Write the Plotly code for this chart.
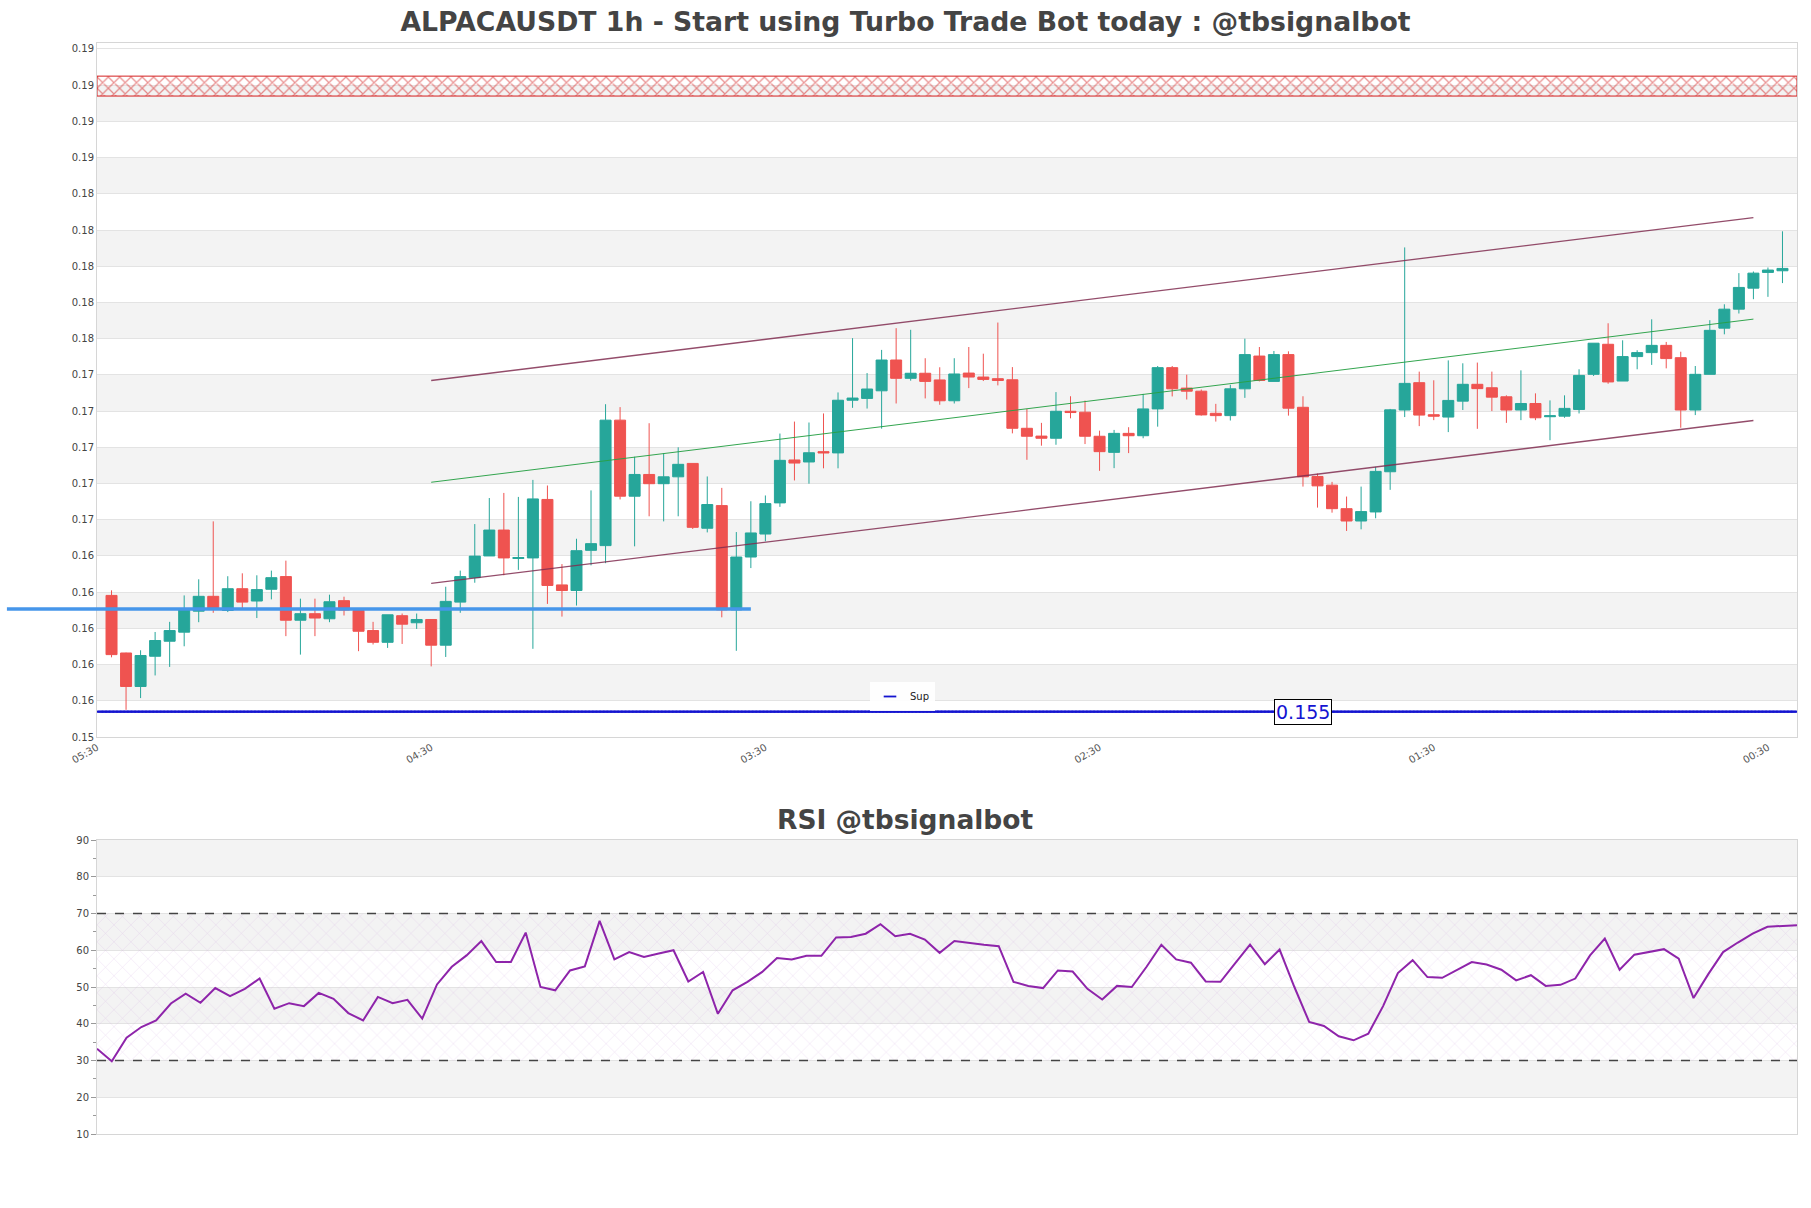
import pandas as pd
import plotly.graph_objects as go

# ---------------- data ----------------
title_text = "ALPACAUSDT 1h - Start using Turbo Trade Bot today : @tbsignalbot"
rsi_title_text = "RSI @tbsignalbot"
start_time = "2024-03-10 05:30"

opens = [0.16182, 0.15864, 0.15679, 0.15846, 0.15929, 0.15979, 0.16095, 0.16177, 0.16099, 0.16219,
         0.16151, 0.16216, 0.16286, 0.16045, 0.16081, 0.16053, 0.16153, 0.16099, 0.15988, 0.15923,
         0.16070, 0.16031, 0.16049, 0.15907, 0.16145, 0.16280, 0.16400, 0.16543, 0.16386, 0.16389,
         0.16712, 0.16240, 0.16209, 0.16431, 0.16457, 0.17150, 0.16730, 0.16850, 0.16799, 0.16837,
         0.16911, 0.16553, 0.16678, 0.16102, 0.16394, 0.16521, 0.16693, 0.16930, 0.16919, 0.16976,
         0.16969, 0.17260, 0.17270, 0.17312, 0.17482, 0.17381, 0.17409, 0.17372, 0.17257, 0.17410,
         0.17388, 0.17379, 0.17373, 0.17105, 0.17062, 0.17050, 0.17199, 0.17194, 0.17061, 0.16972,
         0.17077, 0.17064, 0.17212, 0.17440, 0.17327, 0.17310, 0.17188, 0.17175, 0.17323, 0.17504,
         0.17364, 0.17512, 0.17221, 0.16839, 0.16791, 0.16661, 0.16593, 0.16643, 0.16865, 0.17206,
         0.17357, 0.17180, 0.17167, 0.17255, 0.17348, 0.17329, 0.17279, 0.17206, 0.17242, 0.17169,
         0.17172, 0.17209, 0.17403, 0.17569, 0.17366, 0.17501, 0.17523, 0.17563, 0.17495, 0.17206,
         0.17403, 0.17658, 0.17763, 0.17879, 0.17966, 0.17975]
highs = [0.16210, 0.15866, 0.15879, 0.15980, 0.16036, 0.16182, 0.16271, 0.16591, 0.16288, 0.16304,
         0.16293, 0.16319, 0.16374, 0.16164, 0.16164, 0.16186, 0.16175, 0.16112, 0.16036, 0.16075,
         0.16082, 0.16082, 0.16049, 0.16230, 0.16319, 0.16576, 0.16720, 0.16748, 0.16726, 0.16820,
         0.16789, 0.16355, 0.16495, 0.16762, 0.17238, 0.17222, 0.16948, 0.17133, 0.16967, 0.17000,
         0.16911, 0.16839, 0.16776, 0.16532, 0.16702, 0.16734, 0.17076, 0.17142, 0.17137, 0.17187,
         0.17303, 0.17603, 0.17410, 0.17538, 0.17658, 0.17649, 0.17492, 0.17442, 0.17492, 0.17554,
         0.17517, 0.17689, 0.17443, 0.17212, 0.17135, 0.17305, 0.17282, 0.17258, 0.17092, 0.17096,
         0.17111, 0.17295, 0.17449, 0.17449, 0.17401, 0.17319, 0.17240, 0.17345, 0.17600, 0.17554,
         0.17532, 0.17530, 0.17282, 0.16855, 0.16809, 0.16728, 0.16783, 0.16892, 0.17212, 0.18104,
         0.17418, 0.17370, 0.17480, 0.17464, 0.17468, 0.17418, 0.17287, 0.17425, 0.17298, 0.17259,
         0.17287, 0.17431, 0.17575, 0.17685, 0.17591, 0.17536, 0.17707, 0.17582, 0.17528, 0.17449,
         0.17702, 0.17790, 0.17962, 0.17971, 0.17993, 0.18193]
lows = [0.15840, 0.15550, 0.15615, 0.15740, 0.15787, 0.15901, 0.16034, 0.16086, 0.16090, 0.16105,
        0.16057, 0.16160, 0.15957, 0.15855, 0.15957, 0.16034, 0.16071, 0.15874, 0.15911, 0.15892,
        0.15914, 0.15997, 0.15790, 0.15842, 0.16086, 0.16252, 0.16400, 0.16293, 0.16323, 0.15887,
        0.16135, 0.16065, 0.16126, 0.16348, 0.16360, 0.16712, 0.16453, 0.16619, 0.16591, 0.16619,
        0.16549, 0.16530, 0.16061, 0.15876, 0.16333, 0.16481, 0.16671, 0.16817, 0.16799, 0.16884,
        0.16884, 0.17218, 0.17214, 0.17103, 0.17242, 0.17368, 0.17270, 0.17235, 0.17242, 0.17327,
        0.17366, 0.17342, 0.17077, 0.16931, 0.17009, 0.17014, 0.17160, 0.17018, 0.16870, 0.16885,
        0.16968, 0.17050, 0.17114, 0.17281, 0.17264, 0.17175, 0.17142, 0.17148, 0.17273, 0.17364,
        0.17364, 0.17175, 0.16783, 0.16667, 0.16639, 0.16538, 0.16547, 0.16608, 0.16765, 0.17167,
        0.17117, 0.17150, 0.17084, 0.17206, 0.17102, 0.17200, 0.17135, 0.17150, 0.17150, 0.17039,
        0.17163, 0.17187, 0.17394, 0.17351, 0.17366, 0.17431, 0.17455, 0.17436, 0.17108, 0.17178,
        0.17403, 0.17624, 0.17739, 0.17818, 0.17831, 0.17907]
closes = [0.15855, 0.15679, 0.15850, 0.15933, 0.15988, 0.16105, 0.16177, 0.16105, 0.16219, 0.16145,
          0.16214, 0.16280, 0.16045, 0.16081, 0.16057, 0.16147, 0.16101, 0.15984, 0.15923, 0.16075,
          0.16023, 0.16049, 0.15907, 0.16149, 0.16286, 0.16399, 0.16543, 0.16389, 0.16391, 0.16715,
          0.16237, 0.16209, 0.16429, 0.16468, 0.17150, 0.16730, 0.16850, 0.16799, 0.16837, 0.16906,
          0.16558, 0.16684, 0.16102, 0.16394, 0.16527, 0.16689, 0.16928, 0.16913, 0.16970, 0.16969,
          0.17260, 0.17272, 0.17322, 0.17482, 0.17381, 0.17409, 0.17364, 0.17257, 0.17405, 0.17388,
          0.17375, 0.17369, 0.17105, 0.17061, 0.17050, 0.17199, 0.17192, 0.17061, 0.16976, 0.17077,
          0.17064, 0.17212, 0.17440, 0.17323, 0.17310, 0.17179, 0.17175, 0.17323, 0.17512, 0.17369,
          0.17512, 0.17216, 0.16837, 0.16787, 0.16661, 0.16593, 0.16645, 0.16867, 0.17207, 0.17353,
          0.17178, 0.17172, 0.17259, 0.17348, 0.17324, 0.17277, 0.17206, 0.17242, 0.17163, 0.17174,
          0.17215, 0.17397, 0.17575, 0.17361, 0.17501, 0.17523, 0.17563, 0.17490, 0.17206, 0.17403,
          0.17646, 0.17763, 0.17883, 0.17962, 0.17979, 0.17988]

rsi_values = [33.2, 29.8, 36.2, 39.1, 40.9, 45.5, 48.2, 45.7, 49.7, 47.5, 49.5, 52.3, 44.1, 45.6, 44.8,
              48.4, 46.8, 42.9, 40.9, 47.3, 45.6, 46.5, 41.4, 50.7, 55.5, 58.6, 62.5, 56.8, 56.8, 64.8,
              50.0, 49.1, 54.5, 55.6, 68.0, 57.5, 59.5, 58.2, 59.1, 60.0, 51.5, 54.1, 42.7, 49.1, 51.4,
              54.1, 57.9, 57.5, 58.5, 58.5, 63.5, 63.6, 64.5, 67.1, 63.8, 64.5, 62.9, 59.3, 62.5, 61.9,
              61.5, 61.1, 51.4, 50.3, 49.7, 54.5, 54.2, 49.5, 46.6, 50.3, 50.0, 55.5, 61.5, 57.5, 56.6,
              51.5, 51.4, 56.5, 61.5, 56.2, 60.2, 50.0, 40.5, 39.4, 36.6, 35.5, 37.3, 44.8, 53.8, 57.3,
              52.7, 52.5, 54.7, 56.8, 56.1, 54.7, 51.8, 53.2, 50.3, 50.6, 52.3, 58.6, 63.2, 54.7, 58.8,
              59.5, 60.3, 57.7, 47.0, 53.5, 59.5, 62.1, 64.5, 66.4, 66.6, 66.8]

resistance_zone = [0.1894, 0.1905]
support_level = 0.1554
support_label = "0.155"
support_label_candle = 83
blue_level = 0.16107
blue_start_hours = -6.2
blue_end_candle = 45

channel_candles = [23, 114]
channel_upper = [0.17369, 0.18269]
channel_mid = [0.16807, 0.17708]
channel_lower = [0.16249, 0.17148]

rsi_levels = [30, 70]

# ---------------- derived ----------------
t0 = pd.Timestamp(start_time)
n = len(opens)
times = [t0 + pd.Timedelta(hours=k) for k in range(1, n + 1)]
t_end = t0 + pd.Timedelta(hours=n + 1)
span = (t_end - t0)

def to_paper(t):
    return (t - t0) / span

W, H = 1811, 1208
ML, MR, MT, MB = 97, 14, 43, 74
plot_h = H - MT - MB
main_dom = [(H - MB - 737) / plot_h, 1.0]
rsi_dom = [0.0, (H - MB - 840) / plot_h]

FONT = "DejaVu Sans"
GRID = "#e3e3e3"
BAND = "#f3f3f3"
AXLINE = "#d6d6d6"

fig = go.Figure()

# resistance zone (hatched)
fig.add_trace(go.Scatter(
    x=[t0, t_end, t_end, t0, t0],
    y=[resistance_zone[0], resistance_zone[0], resistance_zone[1], resistance_zone[1], resistance_zone[0]],
    mode="lines", fill="toself", line=dict(color="#d42020", width=1),
    fillcolor="rgba(0,0,0,0)",
    fillpattern=dict(shape="x", fgcolor="#d42020", bgcolor="rgba(0,0,0,0)", size=8, solidity=0.3),
    showlegend=False, hoverinfo="skip", xaxis="x", yaxis="y"))

fig.add_trace(go.Candlestick(
    x=times, open=opens, high=highs, low=lows, close=closes,
    increasing=dict(line=dict(color="#26a69a", width=1), fillcolor="#26a69a"),
    decreasing=dict(line=dict(color="#ef5350", width=1), fillcolor="#ef5350"),
    whiskerwidth=0, showlegend=False, xaxis="x", yaxis="y"))

ch_x = [times[channel_candles[0] - 1], times[channel_candles[1] - 1]]
for yy, col, w in [(channel_upper, "rgba(128,45,80,0.85)", 1.3),
                   (channel_mid, "rgba(40,160,70,0.95)", 1.0),
                   (channel_lower, "rgba(128,45,80,0.85)", 1.3)]:
    fig.add_trace(go.Scatter(x=ch_x, y=yy, mode="lines", line=dict(color=col, width=w),
                             showlegend=False, hoverinfo="skip", xaxis="x", yaxis="y"))

sup_x = pd.date_range(t0, t_end, freq="15min")
fig.add_trace(go.Scatter(
    x=sup_x, y=[support_level] * len(sup_x), mode="markers", name="Sup",
    marker=dict(symbol="line-ew-open", size=9, color="#1414d0", line=dict(width=1.8, color="#1414d0")),
    xaxis="x", yaxis="y"))

# RSI
fig.add_trace(go.Scatter(
    x=[times[0], times[-1], times[-1], times[0], times[0]],
    y=[rsi_levels[0], rsi_levels[0], rsi_levels[1], rsi_levels[1], rsi_levels[0]],
    mode="lines", fill="toself", line=dict(width=0, color="rgba(0,0,0,0)"),
    fillcolor="rgba(0,0,0,0)",
    fillpattern=dict(shape="x", fgcolor="rgba(195,150,215,0.75)", bgcolor="rgba(0,0,0,0)", size=12, solidity=0.07),
    showlegend=False, hoverinfo="skip", xaxis="x2", yaxis="y2"))
fig.add_trace(go.Scatter(x=times, y=rsi_values, mode="lines", line=dict(color="#8e24aa", width=2),
                         showlegend=False, xaxis="x2", yaxis="y2"))

shapes = []
v = 0.156
while v < 0.1915:
    shapes.append(dict(type="rect", xref="x domain", yref="y", x0=0, x1=1, y0=v, y1=v + 0.002,
                       fillcolor=BAND, line=dict(width=0), layer="below"))
    v += 0.004
for lo in [20, 40, 60, 80]:
    shapes.append(dict(type="rect", xref="x2 domain", yref="y2", x0=0, x1=1, y0=lo, y1=lo + 10,
                       fillcolor=BAND, line=dict(width=0), layer="below"))
for lv in rsi_levels:
    shapes.append(dict(type="line", xref="x2 domain", yref="y2", x0=0, x1=1, y0=lv, y1=lv,
                       line=dict(color="#444", width=1.4, dash="dash"), layer="above"))
blue_t0 = t0 + pd.Timedelta(hours=blue_start_hours)
shapes.append(dict(type="line", xref="paper", yref="y",
                   x0=to_paper(blue_t0), x1=to_paper(times[blue_end_candle - 1]),
                   y0=blue_level, y1=blue_level, line=dict(color="#4696ea", width=3.5), layer="above"))

annotations = [
    dict(x=times[support_label_candle - 1], y=support_level, xref="x", yref="y", text=support_label,
         showarrow=False, font=dict(family=FONT, size=19, color="#1414d2"),
         bgcolor="white", bordercolor="black", borderwidth=1, borderpad=1),
    dict(x=(W / 2 - ML) / (W - ML - MR), y=(H - MB - 819) / plot_h, xref="paper", yref="paper",
         text=rsi_title_text, showarrow=False, xanchor="center", yanchor="middle",
         font=dict(family=FONT, size=26.5, color="#444", weight="bold")),
]

fig.update_layout(
    width=W, height=H, margin=dict(l=ML, r=MR, t=MT, b=MB),
    paper_bgcolor="white", plot_bgcolor="white",
    font=dict(family=FONT, color="#444"),
    boxgap=0.13, boxgroupgap=0.13,
    title=dict(text=title_text, x=0.5, xref="container", xanchor="center",
               y=1 - 22 / H, yref="container", yanchor="middle",
               font=dict(family=FONT, size=26.7, color="#444", weight="bold")),
    showlegend=True,
    legend=dict(x=(870 - ML) / (W - ML - MR), y=(H - MB - 682) / plot_h, xanchor="left", yanchor="top",
                bgcolor="rgba(255,255,255,0.9)", font=dict(family=FONT, size=10, color="#222"),
                borderwidth=0),
    xaxis=dict(domain=[0, 1], anchor="y", type="date", range=[t0, t_end],
               tick0=t0, dtick=23 * 3600 * 1000, tickformat="%H:%M", tickangle=-30,
               tickfont=dict(size=10, color="#555"), showgrid=False, zeroline=False,
               showline=True, mirror=True, linecolor=AXLINE, rangeslider=dict(visible=False)),
    yaxis=dict(domain=main_dom, anchor="x", range=[0.154, 0.19233], tick0=0.154, dtick=0.002,
               tickformat=".2f", tickfont=dict(size=10, color="#444"), gridcolor=GRID,
               zeroline=False, showline=True, mirror=True, linecolor=AXLINE),
    xaxis2=dict(domain=[0, 1], anchor="y2", type="date", showticklabels=False, showgrid=False,
                zeroline=False, showline=True, mirror=True, linecolor=AXLINE),
    yaxis2=dict(domain=rsi_dom, anchor="x2", range=[10, 90], dtick=10, tick0=10,
                tickfont=dict(size=10, color="#444"), gridcolor=GRID, zeroline=False,
                showline=True, mirror=True, linecolor=AXLINE,
                ticks="outside", ticklen=5, tickcolor="#999",
                minor=dict(ticks="outside", ticklen=3, dtick=5, tickcolor="#999", showgrid=False)),
    shapes=shapes, annotations=annotations,
)

fig.write_html("out.html", config={"displayModeBar": False},
               post_script="document.body.style.margin='0px';")
